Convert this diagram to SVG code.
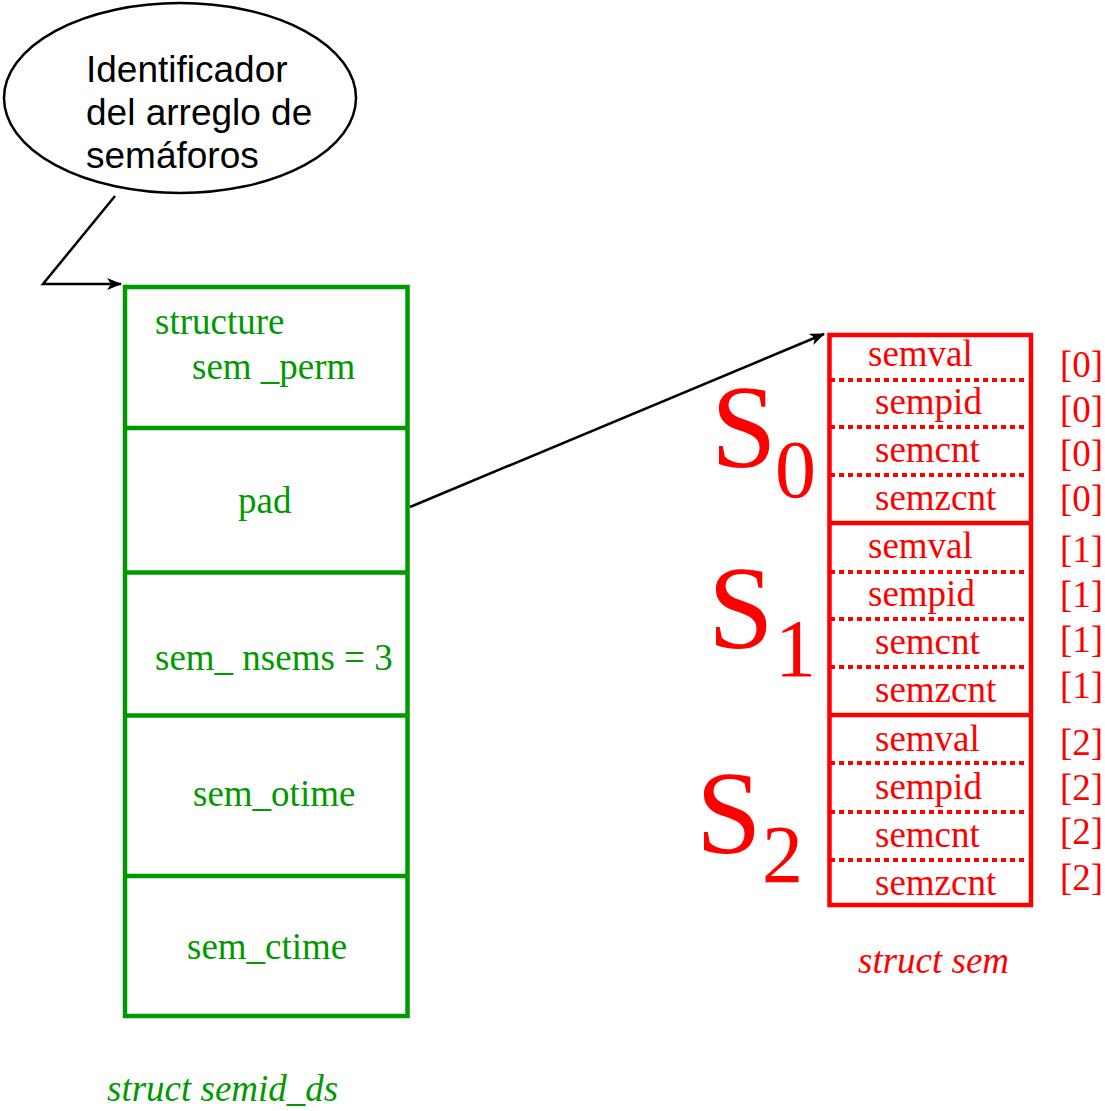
<svg xmlns="http://www.w3.org/2000/svg" width="1105" height="1111" viewBox="0 0 1105 1111">
<style>
.g{font-family:"Liberation Serif","Times New Roman",serif;font-size:37px;fill:#009900}
.r{font-family:"Liberation Serif","Times New Roman",serif;font-size:37px;fill:#ff0000}
.big{font-family:"Liberation Serif","Times New Roman",serif;font-size:118px;fill:#ff0000}
.sub{font-family:"Liberation Serif","Times New Roman",serif;font-size:82px;fill:#ff0000}
.gbox{fill:none;stroke:#009900;stroke-width:4.5}
.rbox{fill:none;stroke:#ff0000;stroke-width:4.5}
.dot{stroke:#ff0000;stroke-width:4;stroke-dasharray:5 4;fill:none}
.conn{stroke:#000;stroke-width:2.5;fill:none}
.lbl{font-family:"Liberation Sans",Arial,sans-serif;font-size:37px;fill:#000}
</style>
<defs>
<marker id="ah" markerWidth="16" markerHeight="12" refX="14" refY="6" orient="auto" markerUnits="userSpaceOnUse">
<path d="M0,0 L15,6 L0,12 L4,6 z" fill="#000"/>
</marker>
</defs>

<g id="callout">
<ellipse cx="180" cy="98" rx="176" ry="95" fill="#fff" stroke="#000" stroke-width="2.5"/>
<text class="lbl" x="86" y="82">Identificador</text>
<text class="lbl" x="86" y="125">del arreglo de</text>
<text class="lbl" x="86" y="168">semáforos</text>
</g>

<g id="connectors">
<polyline class="conn" points="115,196 43,284 121,284" marker-end="url(#ah)"/>
<line class="conn" x1="410" y1="507" x2="824" y2="334" marker-end="url(#ah)"/>
</g>

<g id="semid_ds">
<rect class="gbox" x="125" y="287" width="282.5" height="729"/>
<line class="gbox" x1="125" y1="428" x2="407.5" y2="428"/>
<line class="gbox" x1="125" y1="572.5" x2="407.5" y2="572.5"/>
<line class="gbox" x1="125" y1="715.5" x2="407.5" y2="715.5"/>
<line class="gbox" x1="125" y1="876" x2="407.5" y2="876"/>
<text class="g" x="155" y="334">structure</text>
<text class="g" x="192" y="379">sem _perm</text>
<text class="g" x="238" y="513">pad</text>
<text class="g" x="155" y="670">sem_ nsems = 3</text>
<text class="g" x="193" y="806">sem_otime</text>
<text class="g" x="187" y="959">sem_ctime</text>
<text class="g" x="107" y="1101" font-style="italic">struct semid_ds</text>
</g>

<g id="sem">
<rect class="rbox" x="829.5" y="335" width="201.5" height="570"/>
<line class="rbox" x1="829.5" y1="523" x2="1031" y2="523"/>
<line class="rbox" x1="829.5" y1="715" x2="1031" y2="715"/>
<line class="dot" x1="830" y1="380" x2="1027" y2="380"/>
<line class="dot" x1="830" y1="427" x2="1027" y2="427"/>
<line class="dot" x1="830" y1="475" x2="1027" y2="475"/>
<line class="dot" x1="830" y1="572" x2="1027" y2="572"/>
<line class="dot" x1="830" y1="619" x2="1027" y2="619"/>
<line class="dot" x1="830" y1="667" x2="1027" y2="667"/>
<line class="dot" x1="830" y1="763" x2="1027" y2="763"/>
<line class="dot" x1="830" y1="812" x2="1027" y2="812"/>
<line class="dot" x1="830" y1="860" x2="1027" y2="860"/>

<text class="r" x="868" y="366">semval</text>
<text class="r" x="875" y="414">sempid</text>
<text class="r" x="875" y="462">semcnt</text>
<text class="r" x="875" y="510">semzcnt</text>
<text class="r" x="868" y="558">semval</text>
<text class="r" x="868" y="606">sempid</text>
<text class="r" x="875" y="654">semcnt</text>
<text class="r" x="875" y="702">semzcnt</text>
<text class="r" x="875" y="751">semval</text>
<text class="r" x="875" y="799">sempid</text>
<text class="r" x="875" y="847">semcnt</text>
<text class="r" x="875" y="895">semzcnt</text>

<text class="r" x="1060" y="377">[0]</text>
<text class="r" x="1060" y="422">[0]</text>
<text class="r" x="1060" y="466">[0]</text>
<text class="r" x="1060" y="511">[0]</text>
<text class="r" x="1060" y="562">[1]</text>
<text class="r" x="1060" y="607">[1]</text>
<text class="r" x="1060" y="652">[1]</text>
<text class="r" x="1060" y="698">[1]</text>
<text class="r" x="1060" y="755">[2]</text>
<text class="r" x="1060" y="800">[2]</text>
<text class="r" x="1060" y="844">[2]</text>
<text class="r" x="1060" y="890">[2]</text>

<text class="big" x="711" y="467">S</text>
<text class="sub" x="775" y="497">0</text>
<text class="big" x="708" y="648">S</text>
<text class="sub" x="775" y="676">1</text>
<text class="big" x="696" y="853">S</text>
<text class="sub" x="762" y="882">2</text>

<text class="r" x="858" y="973" font-style="italic">struct sem</text>
</g>
</svg>
